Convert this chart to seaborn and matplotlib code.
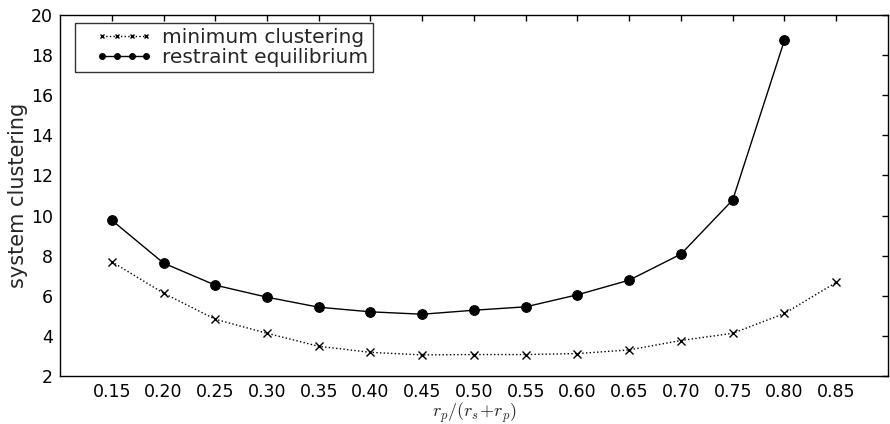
import numpy as np
import pandas as pd
import matplotlib
matplotlib.use("Agg")
import matplotlib.pyplot as plt
from matplotlib.legend_handler import HandlerLine2D
import seaborn as sns

x_vals = [0.15, 0.20, 0.25, 0.30, 0.35, 0.40, 0.45, 0.50, 0.55, 0.60, 0.65, 0.70, 0.75, 0.80, 0.85]
min_clustering = [7.7, 6.13, 4.83, 4.13, 3.48, 3.18, 3.05, 3.07, 3.07, 3.12, 3.3, 3.77, 4.13, 5.12, 6.67]
x_restraint = [0.15, 0.20, 0.25, 0.30, 0.35, 0.40, 0.45, 0.50, 0.55, 0.60, 0.65, 0.70, 0.75, 0.80]
restraint_eq = [9.77, 7.63, 6.53, 5.93, 5.43, 5.2, 5.08, 5.28, 5.45, 6.05, 6.78, 8.08, 10.78, 18.75]
xtick_labels = ["0.15", "0.20", "0.25", "0.30", "0.35", "0.40", "0.45", "0.50",
                "0.55", "0.60", "0.65", "0.70", "0.75", "0.80", "0.85"]
yticks = [2, 4, 6, 8, 10, 12, 14, 16, 18, 20]

sns.set_style("white")
plt.rcParams['font.family'] = ['DejaVu Sans']
plt.rcParams['mathtext.fontset'] = 'cm'

fig = plt.figure(figsize=(8.9, 4.24), dpi=100)
ax = fig.add_axes([60/890, 48/424, 828/890, 361/424])

df_min = pd.DataFrame({"x": x_vals, "y": min_clustering})
df_res = pd.DataFrame({"x": x_restraint, "y": restraint_eq})

sns.lineplot(data=df_min, x="x", y="y", ax=ax, color="black", linestyle=":",
             linewidth=1, marker="x", markersize=6, markeredgewidth=1,
             markeredgecolor="black", markerfacecolor="black",
             label="minimum clustering")
sns.lineplot(data=df_res, x="x", y="y", ax=ax, color="black", linestyle="-",
             linewidth=1, marker="o", markersize=7, markeredgecolor="black",
             markerfacecolor="black",
             label="restraint equilibrium")

ax.set_xlim(0.1, 0.9)
ax.set_ylim(2, 20)
ax.set_xticks(x_vals)
ax.set_xticklabels(xtick_labels)
ax.set_yticks(yticks)
ax.tick_params(direction="in", top=True, right=True, length=4, width=1,
               labelsize=12.5, colors="black", pad=5)
for s in ax.spines.values():
    s.set_color("black")
    s.set_linewidth(1)
ax.set_xlabel(r"$r_p/(r_s\!+\!r_p)$", fontsize=13, labelpad=0)
ax.set_ylabel("system clustering", fontsize=15, labelpad=2)

handles, labels = ax.get_legend_handles_labels()
hmap = {h: HandlerLine2D(numpoints=4, marker_pad=0.0, xpad=1.1) for h in handles}
leg = ax.legend(handles, labels, loc="upper left",
                bbox_to_anchor=(15/828, 1 - 8/361), bbox_transform=ax.transAxes,
                handler_map=hmap, markerscale=0.6, fontsize=14.5,
                frameon=True, fancybox=False, edgecolor="black",
                handlelength=3.3, borderaxespad=0.0, borderpad=0.25,
                labelspacing=0.05, handletextpad=0.75)
leg.get_frame().set_linewidth(1)

fig.savefig("out.png", dpi=100)
